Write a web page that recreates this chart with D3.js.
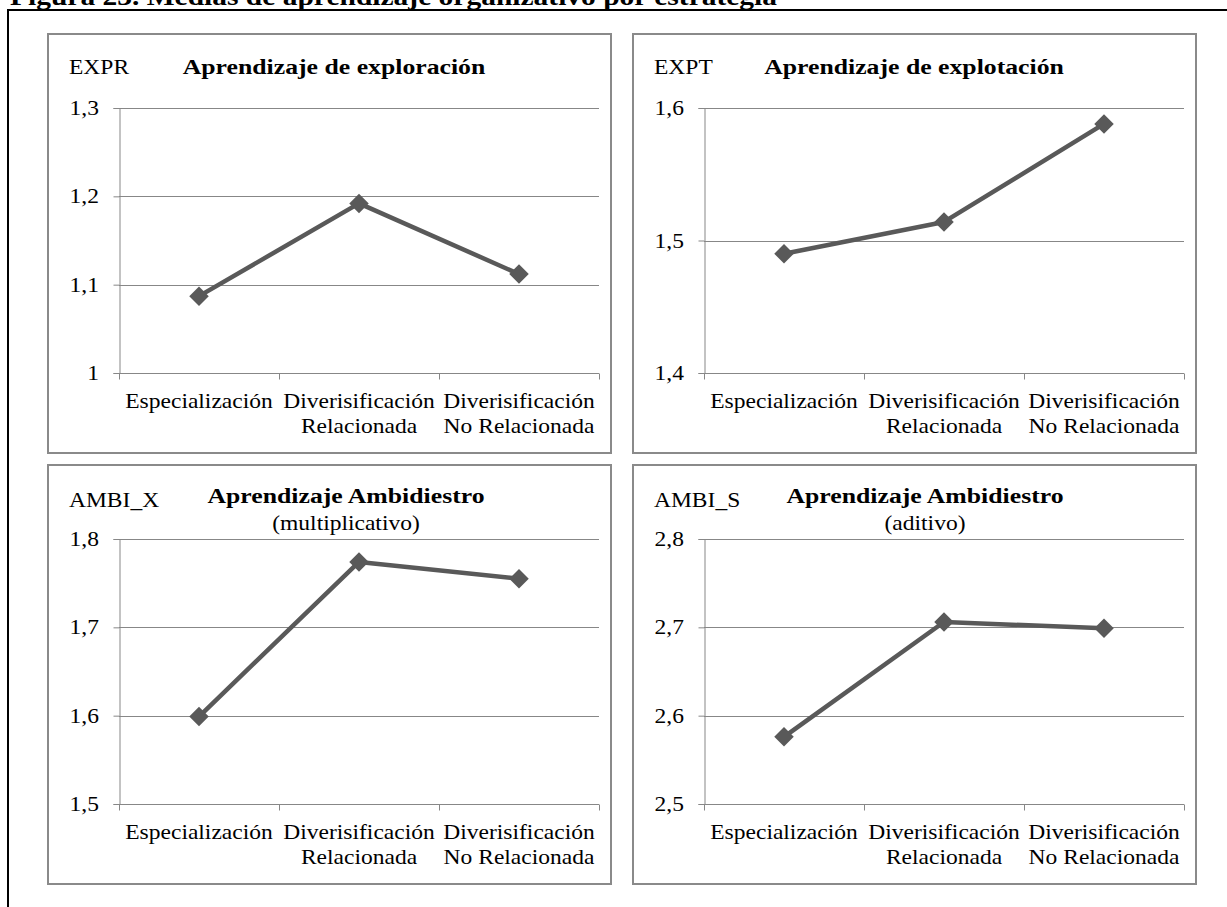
<!DOCTYPE html>
<html>
<head>
<meta charset="utf-8">
<script src="https://cdn.jsdelivr.net/npm/d3@7"></script>
<style>
  html, body { margin: 0; padding: 0; background: #ffffff; overflow: hidden; }
  text { font-family: "Liberation Serif", "Times New Roman", Times, serif; fill: #000; }
</style>
</head>
<body>
<svg id="fig" width="1227" height="907"></svg>
<script>
// ---- Data ----------------------------------------------------------------
const figureTitle = "Figura 23. Medias de aprendizaje organizativo por estrategia";
const categories = ["Especialización", "Diverisificación\nRelacionada", "Diverisificación\nNo Relacionada"];

const panelVars = ["EXPR", "EXPT", "AMBI_X", "AMBI_S"];
const panelTitles = [
  ["Aprendizaje de exploración"],
  ["Aprendizaje de explotación"],
  ["Aprendizaje Ambidiestro", "(multiplicativo)"],
  ["Aprendizaje Ambidiestro", "(aditivo)"]
];

const exprValues  = [1.087, 1.192, 1.112];
const exptValues  = [1.490, 1.514, 1.588];
const ambiXValues = [1.599, 1.774, 1.755];
const ambiSValues = [2.576, 2.706, 2.699];

const exprTicks  = [1, 1.1, 1.2, 1.3];
const exptTicks  = [1.4, 1.5, 1.6];
const ambiXTicks = [1.5, 1.6, 1.7, 1.8];
const ambiSTicks = [2.5, 2.6, 2.7, 2.8];

const exprTickLabels  = ["1", "1,1", "1,2", "1,3"];
const exptTickLabels  = ["1,4", "1,5", "1,6"];
const ambiXTickLabels = ["1,5", "1,6", "1,7", "1,8"];
const ambiSTickLabels = ["2,5", "2,6", "2,7", "2,8"];

// ---- Layout --------------------------------------------------------------
const SX = 1.12;            // horizontal stretch of the lettering
const GRID = "#878787";
const SERIES = "#595959";

const panels = [
  { x: 48,  y: 34,  titleX: 286, values: exprValues,  ticks: exprTicks,  labels: exprTickLabels },
  { x: 633, y: 34,  titleX: 281, values: exptValues,  ticks: exptTicks,  labels: exptTickLabels },
  { x: 48,  y: 465, titleX: 298, values: ambiXValues, ticks: ambiXTicks, labels: ambiXTickLabels },
  { x: 633, y: 465, titleX: 292, values: ambiSValues, ticks: ambiSTicks, labels: ambiSTickLabels }
];
const panelW = 563, panelH = 419;
const plot = { left: 71, right: 551, top: 74, bottom: 339 };

const svg = d3.select("#fig");

function addText(g, x, y, str, opts = {}) {
  return g.append("text")
    .attr("transform", `translate(${x},${y}) scale(${opts.sx || SX},1)`)
    .attr("text-anchor", opts.anchor || "start")
    .style("font-size", (opts.size || 21) + "px")
    .style("font-weight", opts.weight || "normal")
    .text(str);
}

// Figure caption and surrounding frame
addText(svg, 10, 5, figureTitle, { size: 25, weight: "bold", sx: 1.18 });
svg.append("path")
  .attr("d", "M 1230 10 L 8 10 L 8 910")
  .attr("fill", "none")
  .attr("stroke", "#000")
  .attr("stroke-width", 2);

panels.forEach((p, i) => {
  const g = svg.append("g").attr("transform", `translate(${p.x},${p.y})`);

  // chart frame
  g.append("rect")
    .attr("x", 0).attr("y", 0)
    .attr("width", panelW).attr("height", panelH)
    .attr("fill", "#fff")
    .attr("stroke", "#8a8a8a")
    .attr("stroke-width", 2);

  const x = d3.scaleBand().domain(categories).range([plot.left, plot.right]).paddingInner(0).paddingOuter(0);
  const y = d3.scaleLinear().domain(d3.extent(p.ticks)).range([plot.bottom, plot.top]);

  // horizontal gridlines
  g.append("g").selectAll("line")
    .data(p.ticks.slice(1))
    .join("line")
    .attr("x1", plot.left).attr("x2", plot.right)
    .attr("y1", d => Math.round(y(d)) + 0.5).attr("y2", d => Math.round(y(d)) + 0.5)
    .attr("stroke", GRID).attr("stroke-width", 1);

  // value axis
  const yAxis = d3.axisLeft(y)
    .tickValues(p.ticks)
    .tickSize(6);
  const ya = g.append("g").attr("transform", `translate(${plot.left + 0.5},0)`).call(yAxis);
  ya.select(".domain").attr("stroke", GRID);
  ya.selectAll(".tick line").attr("stroke", GRID);
  ya.selectAll(".tick text").remove();
  p.ticks.forEach((t, k) => {
    addText(g, plot.left - 20, y(t) + 7, p.labels[k], { anchor: "end" });
  });

  // category axis with ticks on the band boundaries
  const bx = g.append("g").attr("transform", `translate(0,${Math.round(plot.bottom) + 0.5})`);
  bx.append("line")
    .attr("x1", plot.left).attr("x2", plot.right)
    .attr("stroke", GRID);
  const bounds = categories.map(c => x(c)).concat([x(categories[categories.length - 1]) + x.bandwidth()]);
  bx.selectAll("line.b").data(bounds).join("line")
    .attr("class", "b")
    .attr("x1", d => Math.round(d) + 0.5).attr("x2", d => Math.round(d) + 0.5)
    .attr("y1", 0).attr("y2", 6)
    .attr("stroke", GRID);
  categories.forEach(c => {
    const cx = x(c) + x.bandwidth() / 2;
    c.split("\n").forEach((line, k) => {
      addText(g, cx, plot.bottom + 35 + k * 25, line, { anchor: "middle" });
    });
  });

  // series line and diamond markers
  const pts = p.values.map((v, k) => [x(categories[k]) + x.bandwidth() / 2, y(v)]);
  g.append("path")
    .attr("d", d3.line()(pts))
    .attr("fill", "none")
    .attr("stroke", SERIES)
    .attr("stroke-width", 4.5)
    .attr("stroke-linejoin", "round");
  g.append("g").selectAll("path")
    .data(pts)
    .join("path")
    .attr("d", d3.symbol().type(d3.symbolSquare).size(190))
    .attr("transform", d => `translate(${d[0]},${d[1]}) rotate(45)`)
    .attr("fill", SERIES);

  // titles
  const twoLine = panelTitles[i].length > 1;
  addText(g, 21, twoLine ? 42 : 40, panelVars[i]);
  addText(g, p.titleX, twoLine ? 38 : 40, panelTitles[i][0], { size: 22, weight: "bold", sx: 1.17, anchor: "middle" });
  if (twoLine) addText(g, p.titleX, 65, panelTitles[i][1], { anchor: "middle" });
});
</script>
</body>
</html>
